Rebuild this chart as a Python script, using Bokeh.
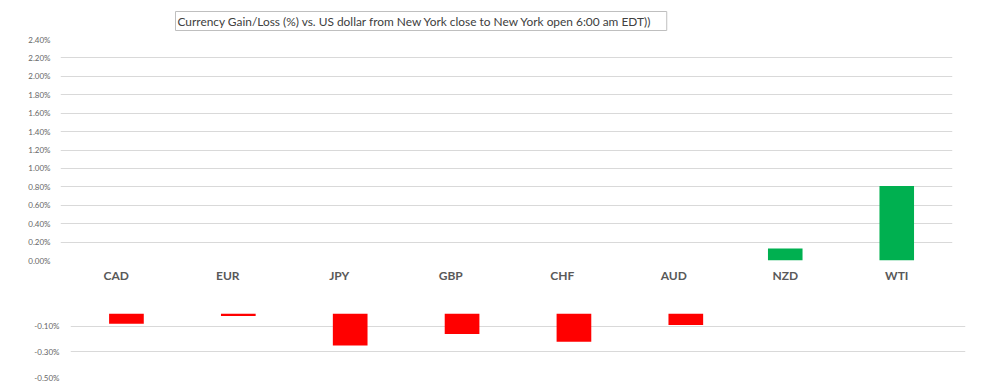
from bokeh.plotting import figure
from bokeh.models import FixedTicker, PrintfTickFormatter, Title, ColumnDataSource, CDSView, BooleanFilter
from bokeh.layouts import column, row
from bokeh.embed import file_html
from bokeh.resources import INLINE

# ---- data ----
categories = ["CAD", "EUR", "JPY", "GBP", "CHF", "AUD", "NZD", "WTI"]
values = [-0.08, -0.02, -0.25, -0.16, -0.22, -0.09, 0.13, 0.81]   # % change vs USD
top_ticks = [0.0, 0.2, 0.4, 0.6, 0.8, 1.0, 1.2, 1.4, 1.6, 1.8, 2.0, 2.2, 2.4]
bottom_ticks = [-0.5, -0.3, -0.1]
title_text = "Currency  Gain/Loss (%) vs. US dollar  from New York  close to  New York open 6:00 am EDT))"

colors = ["#00b050" if v >= 0 else "#ff0000" for v in values]
src = ColumnDataSource(dict(cat=categories, val=values, color=colors))
pos_view = CDSView(filter=BooleanFilter([v >= 0 for v in values]))
neg_view = CDSView(filter=BooleanFilter([v < 0 for v in values]))

GRID = "#d9d9d9"
TICK_COLOR = "#666666"
FONT = "Lato"

# ---- top (positive) panel ----
top = figure(x_range=categories, y_range=(0, 2.4), width=975, height=290,
             output_backend="svg", toolbar_location=None,
             min_border_left=60, min_border_right=23, min_border_top=39, min_border_bottom=30)
top.title = Title(text=title_text, align="left", offset=115, standoff=18,
                  text_font=FONT, text_font_size="11.9px", text_font_style="normal",
                  text_color="#404040", background_fill_color="white",
                  border_line_color="#bfbfbf", border_line_width=1, padding=2)
top.vbar(x="cat", top="val", bottom=0, width=0.31, fill_color="color", line_color=None,
         source=src, view=pos_view)
top.x_range.range_padding = 0
top.outline_line_color = None
top.xgrid.grid_line_color = None
top.ygrid.grid_line_color = GRID
top.yaxis.ticker = FixedTicker(ticks=top_ticks)
top.yaxis.formatter = PrintfTickFormatter(format="%.2f%%")
top.yaxis.axis_line_color = None
top.yaxis.major_tick_line_color = None
top.yaxis.minor_tick_line_color = None
top.yaxis.major_tick_out = 0
top.yaxis.major_label_standoff = 10
top.yaxis.major_label_text_font = FONT
top.yaxis.major_label_text_font_size = "8px"
top.yaxis.major_label_text_color = TICK_COLOR
top.xaxis.axis_line_color = None
top.xaxis.major_tick_line_color = None
top.xaxis.major_tick_out = 0
top.xaxis.major_label_standoff = 7
top.xaxis.major_label_text_font = FONT
top.xaxis.major_label_text_font_style = "bold"
top.xaxis.major_label_text_font_size = "12px"
top.xaxis.major_label_text_color = "#595959"

# ---- bottom (negative) panel ----
bot = figure(x_range=categories, y_range=(-0.5, 0), width=975, height=92,
             output_backend="svg", toolbar_location=None,
             min_border_left=70, min_border_right=10, min_border_top=23, min_border_bottom=5)
bot.vbar(x="cat", top="val", bottom=0, width=0.31, fill_color="color", line_color=None,
         source=src, view=neg_view)
bot.x_range.range_padding = 0
bot.outline_line_color = None
bot.xgrid.grid_line_color = None
bot.ygrid.grid_line_color = GRID
bot.xaxis.visible = False
bot.yaxis.ticker = FixedTicker(ticks=bottom_ticks)
bot.yaxis.formatter = PrintfTickFormatter(format="%.2f%%")
bot.yaxis.axis_line_color = None
bot.yaxis.major_tick_line_color = None
bot.yaxis.minor_tick_line_color = None
bot.yaxis.major_tick_out = 0
bot.yaxis.major_label_standoff = 11
bot.yaxis.major_label_text_font = FONT
bot.yaxis.major_label_text_font_size = "8px"
bot.yaxis.major_label_text_color = TICK_COLOR

p = column(row(top), row(bot), spacing=0)
open("out.html", "w").write(file_html(p, INLINE))
